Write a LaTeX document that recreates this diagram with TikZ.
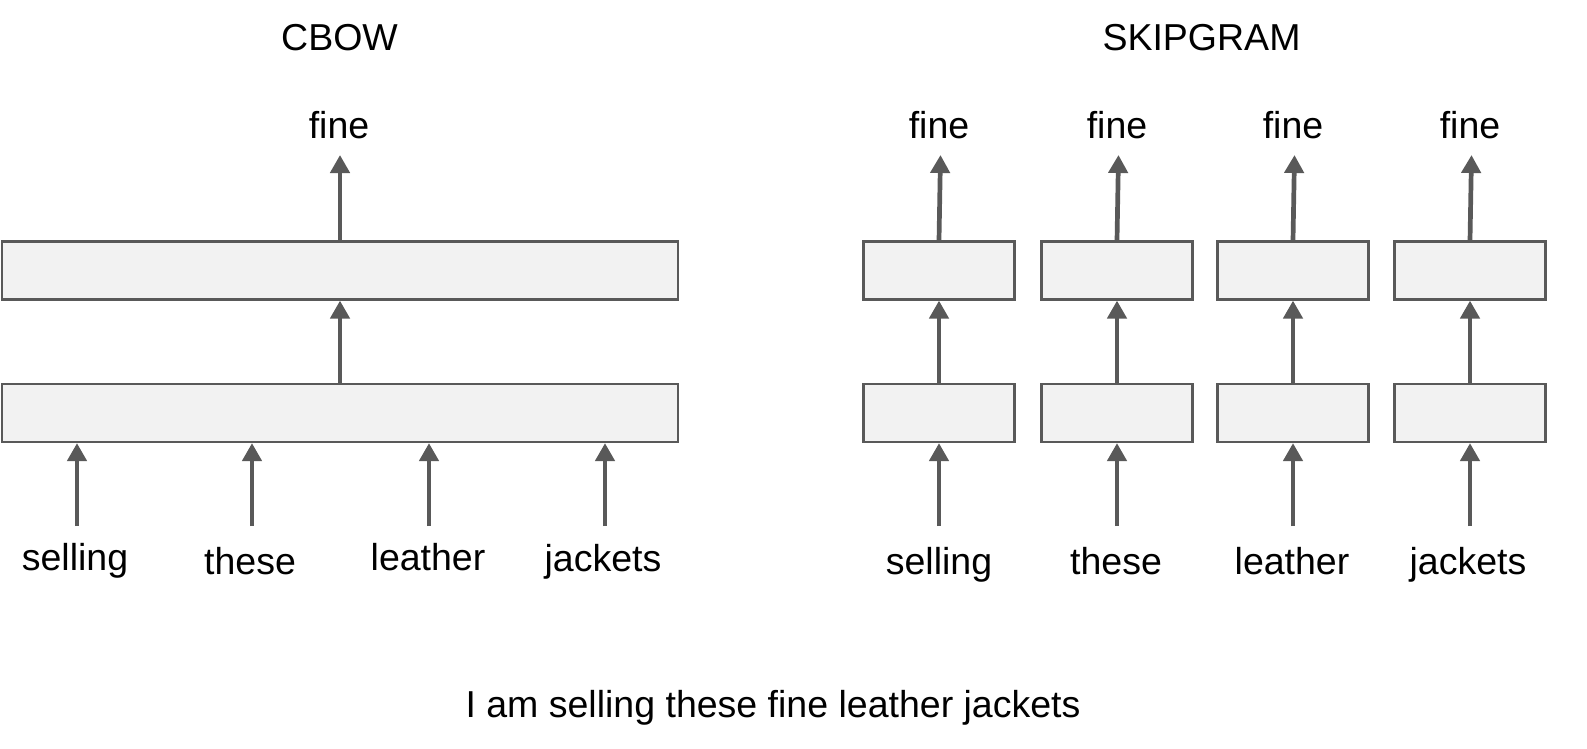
\documentclass[tikz,border=0pt]{standalone}
\usepackage{fontspec}
\setmainfont{Liberation Sans}
\usetikzlibrary{arrows.meta}
\definecolor{ink}{HTML}{595959}
\definecolor{boxfill}{HTML}{F2F2F2}
\begin{document}
\begin{tikzpicture}[x=1pt,y=-1pt,
  lbl/.style={font=\fontsize{37.5}{45}\selectfont, inner sep=0pt, anchor=base, text=black},
  layer/.style={draw=ink, fill=boxfill, line width=2.2pt, inner sep=0pt, minimum height=58pt},
  arr/.style={draw=ink, line width=4.7pt, -{Triangle[width=19pt,length=18pt]}}]
\useasboundingbox (0,0) rectangle (1587,749);
% titles
\node[lbl] (tcbow) at (339.5,51) {CBOW};
\node[lbl] (tskip) at (1201.5,51) {SKIPGRAM};
% CBOW
\node[layer, minimum width=676pt] (cbout) at (340,270.5) {};
\node[layer, minimum width=676pt] (cbin) at (340,413) {};
\node[lbl] (cbfine) at (339,138.5) {fine};
\coordinate (cbtip) at (340,155);
\draw[arr] (cbout.north) -- (cbtip);
\draw[arr] (cbin.north) -- (cbout.south);
\node[lbl] (cw1) at (75,570) {selling};
\node[lbl] (cw2) at (250,574) {these};
\node[lbl] (cw3) at (428,570) {leather};
\node[lbl] (cw4) at (603,571) {jackets};
\foreach \i/\x in {1/77,2/252,3/429,4/605}{
  \coordinate (cs\i) at (\x,526);
  \draw[arr] (cs\i) -- (cs\i |- cbin.south);
}
% SKIPGRAM
\foreach \i/\x in {1/939,2/1117,3/1293,4/1470}{
  \node[layer, minimum width=151pt] (so\i) at (\x,270.5) {};
  \node[layer, minimum width=151pt] (si\i) at (\x,413) {};
  \node[lbl] (sf\i) at (\x,138.5) {fine};
  \coordinate (st\i) at (\x+1.5,155);
  \draw[arr] (so\i.north) -- (st\i);
  \draw[arr] (si\i.north) -- (so\i.south);
  \coordinate (ss\i) at (\x,526);
  \draw[arr] (ss\i) -- (ss\i |- si\i.south);
}
\node[lbl] (sw1) at (939,574) {selling};
\node[lbl] (sw2) at (1116,574) {these};
\node[lbl] (sw3) at (1292,574) {leather};
\node[lbl] (sw4) at (1468,574) {jackets};
% sentence
\node[lbl] (sent) at (773,717) {I am selling these fine leather jackets};
\end{tikzpicture}
\end{document}
